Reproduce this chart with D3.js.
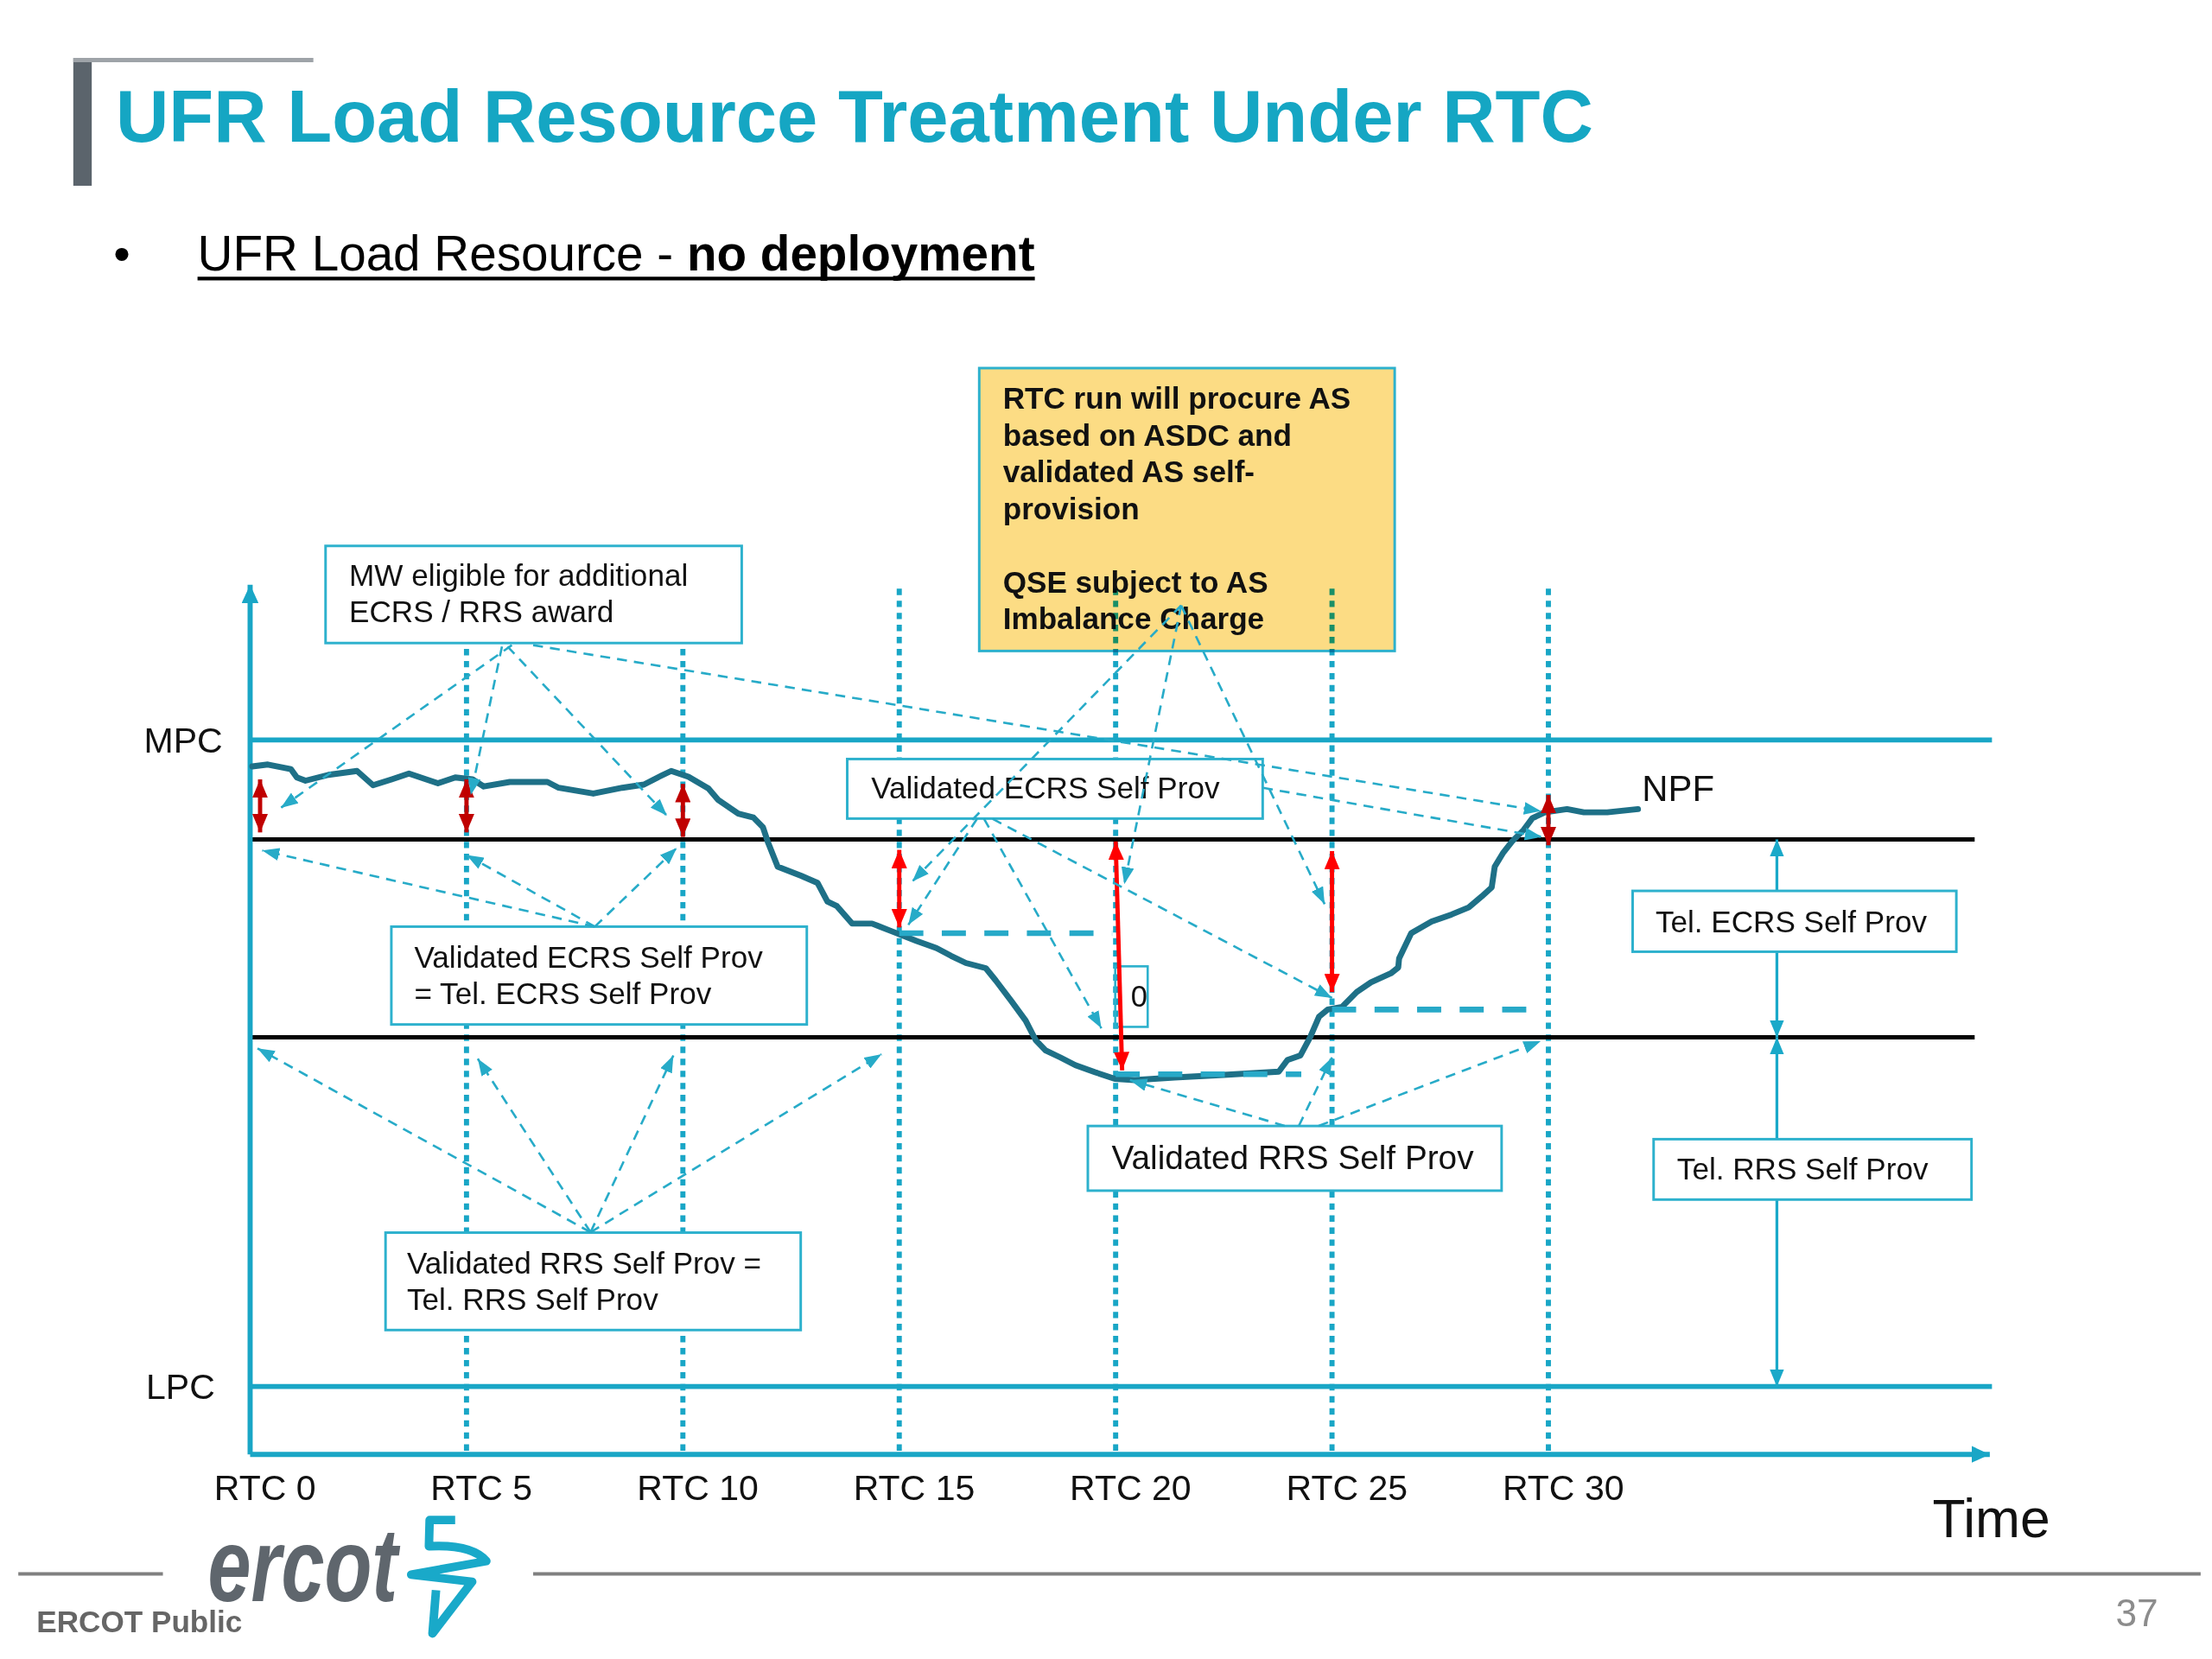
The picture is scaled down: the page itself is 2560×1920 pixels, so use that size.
<!DOCTYPE html>
<html>
<head>
<meta charset="utf-8">
<script src="https://cdn.jsdelivr.net/npm/d3@7"></script>
<style>
  html, body { margin: 0; padding: 0; background: #fff; }
  svg { display: block; font-family: 'Liberation Sans', Arial, Helvetica, sans-serif; }
</style>
</head>
<body>
<div id="chart"></div>
<script>
// ---- data ----
const titleText = 'UFR Load Resource Treatment Under RTC';
const subtitleParts = ['UFR Load Resource - ', 'no deployment'];

// RTC intervals on the time axis
const rtcTicks = [0, 5, 10, 15, 20, 25, 30];
const rtcLabels = ['RTC 0', 'RTC 5', 'RTC 10', 'RTC 15', 'RTC 20', 'RTC 25', 'RTC 30'];

// limits, chart units (LPC = 0, MPC = 100)
const limitNames = ['LPC', 'MPC'];
const limitValues = [0, 100];

// telemetered self provision, stacked on LPC
const telNames = ['Tel. RRS Self Prov', 'Tel. ECRS Self Prov'];
const telValues = [54, 30.6];

// NPF curve
const npfTime = [0.05, 0.41, 0.94, 1.08, 1.28, 1.81, 2.47, 2.84, 3.27, 3.67, 4.07, 4.34, 4.74, 5.14, 5.40,
  6.00, 6.87, 7.13, 7.93, 8.60, 9.10, 9.45, 9.73, 10.13, 10.59, 10.82, 11.28, 11.63, 11.85, 11.97,
  12.19, 12.73, 13.11, 13.34, 13.56, 13.91, 14.37, 14.83, 15.40, 15.86, 16.20, 16.54, 17.00, 17.23,
  17.58, 17.92, 18.15, 18.38, 18.72, 19.07, 19.53, 19.98, 20.44, 21.36, 22.50, 23.77, 23.97, 24.27,
  24.50, 24.70, 24.90, 25.23, 25.57, 25.90, 26.36, 26.53, 26.55, 26.83, 27.30, 27.76, 28.16, 28.46,
  28.69, 28.76, 28.96, 29.16, 29.43, 29.63, 29.92, 30.43, 30.82, 31.36, 32.07];
const npfValue = [95.9, 96.2, 95.5, 94.2, 93.7, 94.6, 95.2, 93.0, 93.9, 94.8, 93.9, 93.3, 94.2, 93.9, 92.8,
  93.5, 93.5, 92.6, 91.7, 92.6, 93.1, 94.3, 95.2, 94.3, 92.5, 90.7, 88.6, 88.0, 86.5, 84.1,
  80.4, 79.0, 77.9, 75.0, 74.3, 71.6, 71.6, 70.4, 68.9, 67.8, 66.6, 65.5, 64.7, 62.8,
  59.7, 56.6, 53.6, 52.0, 50.9, 49.7, 48.6, 47.6, 47.4, 47.8, 48.2, 48.7, 50.5, 51.2,
  54.1, 57.2, 58.3, 58.7, 61.0, 62.5, 63.9, 64.8, 66.2, 70.1, 71.9, 73.0, 74.1, 75.8,
  77.2, 80.4, 82.6, 84.3, 86.1, 87.9, 88.8, 89.3, 88.8, 88.8, 89.3];

// validated self provision levels (thick dashes)
const validStart = [15, 20, 25];
const validEnd = [19.92, 24.29, 29.55];
const validValue = [70.1, 48.3, 58.3];

// red double arrows
const gapTime = [0.23, 5, 10, 15, 20, 25, 30];
const gapTimeEnd = [0.23, 5, 10, 15, 20.15, 25, 30];
const gapTop = [93.9, 93.9, 93.2, 83.0, 84.3, 82.8, 91.5];
const gapBottom = [85.7, 85.7, 85.0, 71.0, 48.9, 61.0, 83.7];
const gapKind = ['eligible', 'eligible', 'eligible', 'imbalance', 'imbalance', 'imbalance', 'eligible'];

// callout texts
const noteLines = ['RTC run will procure AS', 'based on ASDC and', 'validated AS self-', 'provision', '',
  'QSE subject to AS', 'Imbalance Charge'];
const mwLines = ['MW eligible for additional', 'ECRS / RRS award'];
const ecrsValidLines = ['Validated ECRS Self Prov'];
const ecrsEqLines = ['Validated ECRS Self Prov', '= Tel. ECRS Self Prov'];
const rrsEqLines = ['Validated RRS Self Prov =', 'Tel. RRS Self Prov'];
const rrsValidLines = ['Validated RRS Self Prov'];

// where each callout points (time, value)
const mwPointer = [[0.71, 89.5], [5.1, 91.5], [9.63, 88.3], [29.83, 89.0]];
const ecrsEqPointer = [[0.28, 82.9], [5.0, 82.2], [9.86, 83.3]];
const rrsEqPointer = [[0.17, 52.3], [5.26, 50.7], [9.78, 51.2], [14.59, 51.4]];
const notePointer = [[15.3, 78.1], [20.2, 77.7], [24.83, 74.6]];
const ecrsValidPointer = [[15.21, 71.4], [19.67, 55.4], [25.0, 60.1], [29.85, 85.0]];
const rrsValidPointer = [[20.33, 47.4], [25.0, 50.9], [29.82, 53.4]];

// ---- drawing ----
const W = 1560, H = 1170;
const teal = '#19a6c6', boxTeal = '#2db1cd', annTeal = '#27abc8', curveCol = '#1e7087';

const svg = d3.select('#chart').append('svg')
  .attr('width', 2560).attr('height', 1920)
  .attr('viewBox', [0, 0, W, H].join(' '));

const x = d3.scaleLinear().domain([0, 40.2]).range([176.4, 1403.3]);
const y = d3.scaleLinear().domain([-10.5, 124]).range([1025.7, 412.4]);

const defs = svg.append('defs');
function marker(id, len, wid, color) {
  defs.append('marker').attr('id', id)
    .attr('viewBox', `0 0 ${len} ${wid}`)
    .attr('refX', len).attr('refY', wid / 2)
    .attr('markerWidth', len).attr('markerHeight', wid)
    .attr('markerUnits', 'userSpaceOnUse')
    .attr('orient', 'auto-start-reverse')
    .append('path').attr('d', `M0,0L${len},${wid / 2}L0,${wid}Z`).attr('fill', color);
}
marker('ann', 12, 9, annTeal);
marker('axisHead', 13, 12, teal);
marker('redDark', 13, 11, '#c00000');
marker('redBright', 13, 11, '#ff0000');
marker('telHead', 12, 10, '#1aa9c9');

// header
svg.append('rect').attr('x', 51.7).attr('y', 41).attr('width', 13).attr('height', 90).attr('fill', '#5b646c');
svg.append('line').attr('x1', 51.7).attr('x2', 221).attr('y1', 42.3).attr('y2', 42.3)
  .attr('stroke', '#9ea3a8').attr('stroke-width', 3);
svg.append('text').attr('x', 81.6).attr('y', 100).attr('font-size', 52).attr('font-weight', 'bold')
  .attr('fill', '#15a6c3').attr('textLength', 1042).attr('lengthAdjust', 'spacingAndGlyphs')
  .text(titleText);

svg.append('text').attr('x', 80).attr('y', 191).attr('font-size', 34).text('\u2022');
const sub = svg.append('text').attr('x', 139.3).attr('y', 191).attr('font-size', 34.5).attr('fill', '#000');
sub.append('tspan').text(subtitleParts[0]);
sub.append('tspan').attr('font-weight', 'bold').text(subtitleParts[1]);
const sb = sub.node().getBBox();
svg.append('line').attr('x1', sb.x).attr('x2', sb.x + sb.width).attr('y1', 196.5).attr('y2', 196.5)
  .attr('stroke', '#000').attr('stroke-width', 2.6);

// yellow note box (under the dotted lines)
const note = svg.append('g');
note.append('rect').attr('x', 690.6).attr('y', 259.6).attr('width', 293).attr('height', 199.5)
  .attr('fill', '#fcdc84').attr('stroke', boxTeal).attr('stroke-width', 1.8);
note.selectAll('text').data(noteLines).join('text')
  .attr('x', 707.3).attr('y', (d, i) => 288.5 + i * 25.9)
  .attr('font-size', 21.4).attr('font-weight', 'bold').attr('fill', '#111')
  .text(d => d);

// RTC interval dotted lines
svg.append('g').selectAll('line').data(rtcTicks.slice(1)).join('line')
  .attr('x1', d => x(d)).attr('x2', d => x(d))
  .attr('y1', y(123.4)).attr('y2', y(-10.5))
  .attr('stroke', teal).attr('stroke-width', 3.6).attr('stroke-dasharray', '4.5,4')
  .style('mix-blend-mode', 'multiply');

// MPC / LPC
svg.append('g').selectAll('line').data(limitValues).join('line')
  .attr('x1', x(0)).attr('x2', x(40.25))
  .attr('y1', d => y(d)).attr('y2', d => y(d))
  .attr('stroke', teal).attr('stroke-width', 3.6);
svg.append('g').selectAll('text').data(limitNames).join('text')
  .attr('x', (d, i) => i === 0 ? 103 : 101.5)
  .attr('y', (d, i) => y(limitValues[i]) + 9)
  .attr('font-size', 25).attr('fill', '#111').text(d => d);

// self provision boundaries (black)
const telTops = d3.cumsum(telValues);
svg.append('g').selectAll('line').data(telTops).join('line')
  .attr('x1', x(0)).attr('x2', x(39.85))
  .attr('y1', d => y(d)).attr('y2', d => y(d))
  .attr('stroke', '#000').attr('stroke-width', 3);

// axes
svg.append('line').attr('x1', x(0)).attr('x2', x(0)).attr('y1', y(-10.5)).attr('y2', y(124))
  .attr('stroke', teal).attr('stroke-width', 3.6).attr('marker-end', 'url(#axisHead)');
svg.append('line').attr('x1', x(0)).attr('x2', x(40.2)).attr('y1', y(-10.5)).attr('y2', y(-10.5))
  .attr('stroke', teal).attr('stroke-width', 3.6).attr('marker-end', 'url(#axisHead)');

const xAxis = svg.append('g').attr('transform', `translate(0,${y(-10.5)})`)
  .call(d3.axisBottom(x).tickValues(rtcTicks).tickFormat((d, i) => rtcLabels[i]).tickSize(0).tickPadding(14.5));
xAxis.select('.domain').remove();
xAxis.attr('font-family', null).attr('font-size', 25);
xAxis.selectAll('text').attr('fill', '#111').attr('dx', 10);

svg.append('text').attr('x', 1362.8).attr('y', 1084).attr('font-size', 38).attr('fill', '#111').text('Time');

// Tel. self prov dimension arrows
const telX = x(35.28);
svg.append('g').selectAll('line').data(telValues).join('line')
  .attr('x1', telX).attr('x2', telX)
  .attr('y1', (d, i) => y(telTops[i] - d)).attr('y2', (d, i) => y(telTops[i]))
  .attr('stroke', '#1aa9c9').attr('stroke-width', 2)
  .attr('marker-start', 'url(#telHead)').attr('marker-end', 'url(#telHead)');

// white callout boxes
const boxes = [
  { lines: mwLines, x: 229.6, y: 385, w: 293.5, h: 68.5, tx: 246.2, ty: 413.3 },
  { lines: ecrsValidLines, x: 597.5, y: 535.3, w: 293, h: 42, tx: 614.4, ty: 563.1 },
  { lines: ecrsEqLines, x: 276, y: 653.5, w: 293, h: 69, tx: 292.2, ty: 682.5 },
  { lines: rrsEqLines, x: 271.9, y: 869.3, w: 292.8, h: 68.7, tx: 287, ty: 898.2 },
  { lines: rrsValidLines, x: 767.2, y: 794.1, w: 291.8, h: 45.6, tx: 784, ty: 824.7, size: 23.6 },
  { lines: [telNames[1]], x: 1151.4, y: 628.3, w: 228.3, h: 42.9, tx: 1167.5, ty: 657.8 },
  { lines: [telNames[0]], x: 1166.2, y: 803.4, w: 224.2, h: 42.6, tx: 1182.7, ty: 832 }
];
const bx = svg.append('g').selectAll('g').data(boxes).join('g');
bx.append('rect').attr('x', d => d.x).attr('y', d => d.y).attr('width', d => d.w).attr('height', d => d.h)
  .attr('fill', '#fff').attr('stroke', boxTeal).attr('stroke-width', 1.8);
bx.each(function (b) {
  d3.select(this).selectAll('text').data(b.lines).join('text')
    .attr('x', b.tx).attr('y', (d, i) => b.ty + i * 25.7)
    .attr('font-size', b.size || 21.4).attr('fill', '#111').text(d => d);
});

// "0" marker box
svg.append('rect').attr('x', 786.5).attr('y', 681.5).attr('width', 22.9).attr('height', 42.7)
  .attr('fill', 'none').attr('stroke', boxTeal).attr('stroke-width', 1.6);
svg.append('text').attr('x', 803.3).attr('y', 710).attr('text-anchor', 'middle')
  .attr('font-size', 21).attr('fill', '#111').text('0');

// NPF curve
const npf = npfTime.map((t, i) => [t, npfValue[i]]);
svg.append('path').datum(npf)
  .attr('d', d3.line().x(d => x(d[0])).y(d => y(d[1])))
  .attr('fill', 'none').attr('stroke', curveCol).attr('stroke-width', 4.2)
  .attr('stroke-linejoin', 'round').attr('stroke-linecap', 'round');
svg.append('text').attr('x', 1158).attr('y', 565).attr('font-size', 25.5).attr('fill', '#111').text('NPF');

// validated self provision dashes
svg.append('g').selectAll('line').data(validValue).join('line')
  .attr('x1', (d, i) => x(validStart[i])).attr('x2', (d, i) => x(validEnd[i]))
  .attr('y1', d => y(d)).attr('y2', d => y(d))
  .attr('stroke', '#27a9c8').attr('stroke-width', 4).attr('stroke-dasharray', '17,13');

// red double arrows
svg.append('g').selectAll('line').data(gapTime).join('line')
  .attr('x1', d => x(d)).attr('x2', (d, i) => x(gapTimeEnd[i]))
  .attr('y1', (d, i) => y(gapTop[i])).attr('y2', (d, i) => y(gapBottom[i]))
  .attr('stroke', (d, i) => gapKind[i] === 'eligible' ? '#c00000' : '#ff0000')
  .attr('stroke-width', 3)
  .attr('marker-start', (d, i) => gapKind[i] === 'eligible' ? 'url(#redDark)' : 'url(#redBright)')
  .attr('marker-end', (d, i) => gapKind[i] === 'eligible' ? 'url(#redDark)' : 'url(#redBright)');

// callout pointers
const pointers = [];
function addPointers(targets, sources) {
  targets.forEach((p, i) => pointers.push({ from: sources[i] || sources[0], to: p }));
}
addPointers(mwPointer, [[361, 455], [354, 456], [358, 456], [376, 455]]);
addPointers(ecrsEqPointer, [[419.5, 653.5]]);
addPointers(rrsEqPointer, [[416.5, 869]]);
addPointers(notePointer, [[833, 427]]);
addPointers(ecrsValidPointer, [[689, 577.5], [694, 577.5], [700, 577.5], [890.7, 555.6]]);
addPointers(rrsValidPointer, [[906, 794], [916, 794], [930, 794]]);

svg.append('g').selectAll('line').data(pointers).join('line')
  .attr('x1', d => d.from[0]).attr('y1', d => d.from[1])
  .attr('x2', d => x(d.to[0])).attr('y2', d => y(d.to[1]))
  .attr('stroke', annTeal).attr('stroke-width', 1.6).attr('stroke-dasharray', '7,5')
  .attr('marker-end', 'url(#ann)');

// footer
svg.append('line').attr('x1', 12.9).attr('x2', 114.9).attr('y1', 1110).attr('y2', 1110)
  .attr('stroke', '#808080').attr('stroke-width', 2.5);
svg.append('line').attr('x1', 376).attr('x2', 1552).attr('y1', 1110).attr('y2', 1110)
  .attr('stroke', '#808080').attr('stroke-width', 2.5);
svg.append('text').attr('x', 146.5).attr('y', 1129).attr('font-size', 74).attr('font-style', 'italic')
  .attr('font-weight', 'bold').attr('fill', '#5f666d')
  .attr('textLength', 134).attr('lengthAdjust', 'spacingAndGlyphs').text('ercot');
svg.append('path')
  .attr('d', 'M321,1072 L303,1072 L302.5,1090.5 Q333,1089 343,1101 L290,1110.5 L333,1115.5 L305,1152 L307.5,1121.5')
  .attr('fill', 'none').attr('stroke', '#19a9c9').attr('stroke-width', 6).attr('stroke-linejoin', 'round');
svg.append('text').attr('x', 25.8).attr('y', 1151).attr('font-size', 21.4).attr('font-weight', 'bold')
  .attr('fill', '#666').text('ERCOT Public');
svg.append('text').attr('x', 1492).attr('y', 1147).attr('font-size', 27).attr('fill', '#8c8c8c').text('37');
</script>
</body>
</html>
